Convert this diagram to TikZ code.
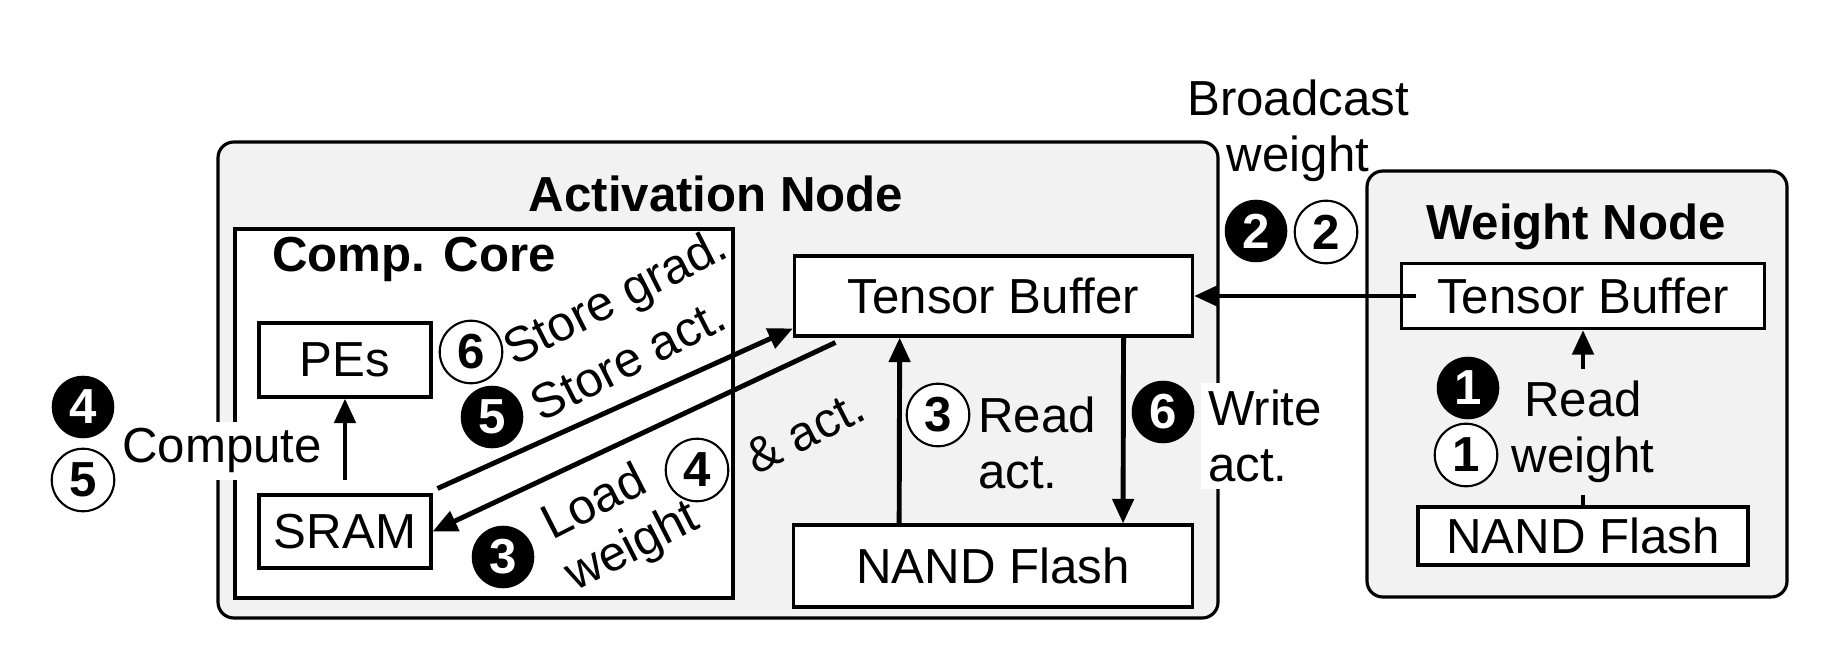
\documentclass[tikz,border=0pt]{standalone}
\usepackage{fontspec}
\setmainfont{Liberation Sans}
\usetikzlibrary{arrows.meta}

\begin{document}
\begin{tikzpicture}[x=0.1mm,y=-0.1mm,
    every node/.style={font=\fontsize{14}{16}\selectfont},
    box/.style={draw, line width=0.9pt, fill=white, inner sep=0pt},
    title/.style={font=\fontsize{14}{16}\selectfont\bfseries, anchor=base},
    tilt/.style={rotate=27, inner sep=0.5pt},
    blk/.style={circle, fill=black, text=white, inner sep=0pt, minimum size=17.8pt,
        font=\fontsize{14}{16}\selectfont\bfseries},
    wht/.style={circle, draw, line width=0.6pt, fill=white, inner sep=0pt, minimum size=17.8pt,
        font=\fontsize{14}{16}\selectfont\bfseries},
    arr/.style={line width=1.4pt, -{Triangle[length=7pt,width=6pt]}},
]
    \useasboundingbox (0,0) rectangle (1832,664);

    % Draw the two nodes and the core
    \node[box, fill=black!5, rounded corners=4.5pt, minimum width=10cm, minimum height=4.76cm] (actnode) at (718,380) {};
    \node[box, minimum width=4.98cm, minimum height=3.69cm] (core) at (484,413.5) {};
    \node[box, fill=black!5, rounded corners=4.5pt, minimum width=4.2cm, minimum height=4.26cm] (wnode) at (1577,384) {};

    \node[title] (acttitle) at (716,212) {Activation Node};
    \node[title] (coretitle) at (414,272) {Comp. Core};
    \node[title] (wtitle) at (1576,240) {Weight Node};

    % Draw the units
    \node[box, minimum width=1.72cm, minimum height=0.74cm] (pes) at (345,360) {PEs};
    \node[box, minimum width=1.72cm, minimum height=0.73cm] (sram) at (345,531.5) {SRAM};
    \node[box, minimum width=3.98cm, minimum height=0.80cm] (atb) at (993.5,296) {Tensor Buffer};
    \node[box, minimum width=3.99cm, minimum height=0.82cm] (anand) at (993,566) {NAND Flash};
    \node[box, minimum width=3.63cm, minimum height=0.65cm] (wtb) at (1583,296) {Tensor Buffer};
    \node[box, minimum width=3.30cm, minimum height=0.58cm] (wnand) at (1583,536) {NAND Flash};

    % Draw the arrows
    \draw[arr, shorten <=3.7pt] (sram) -- (pes);
    \draw[arr] ([xshift=1.4pt,yshift=1.4pt]sram.north east) -- ([yshift=2.6pt]atb.south west);
    \draw[arr] ([xshift=12.1pt,yshift=-1.4pt]atb.south west) -- (sram.east);
    \draw[arr] ([xshift=-26.7pt]anand.north) -- ([xshift=-26.7pt]atb.south);
    \draw[arr] ([xshift=37pt]atb.south) -- ([xshift=37pt]anand.north);
    \draw[arr] ([xshift=4.5pt]wtb.west) -- (atb.east);

    % Draw the labels
    \node[align=center] (wread) at (1583,432) {Read\\weight};
    \draw[line width=1.4pt] (wnand.north) -- (wread.south);
    \draw[arr] (wread.north) -- (wtb.south);
    \node[blk] (b1) at (1468,388) {1};
    \node[wht] (w1) at (1466,455) {1};

    \node[align=center] (bcast) at (1298,131) {Broadcast\\weight};
    \node[blk] (b2) at (1256,231) {2};
    \node[wht] (w2) at (1326,232) {2};

    \node[fill=white, anchor=base, inner sep=2pt] (compute) at (222,463) {Compute};
    \node[blk] (b4) at (83,407) {4};
    \node[wht] (w5) at (83,480) {5};

    \node[tilt] (storegrad) at (617,300) {Store grad.};
    \node[tilt] (storeact) at (628,360) {Store act.};
    \node[wht] (w6) at (471,352) {6};
    \node[blk] (b5) at (492,417) {5};

    \node[tilt] (load) at (593,500) {Load};
    \node[tilt] (loadw) at (633,548) {weight};
    \node[tilt] (andact) at (805,432) {\& act.};
    \node[blk] (b3) at (503,557) {3};
    \node[wht] (w4) at (697,470) {4};

    \node[align=left, inner sep=1pt] (readact) at (1037,443) {Read\\act.};
    \node[wht] (w3) at (938,415) {3};

    \node[align=left, fill=white, inner sep=2pt] (writeact) at (1265,436) {Write\\act.};
    \node[blk] (b6) at (1163,412) {6};

\end{tikzpicture}
\end{document}
